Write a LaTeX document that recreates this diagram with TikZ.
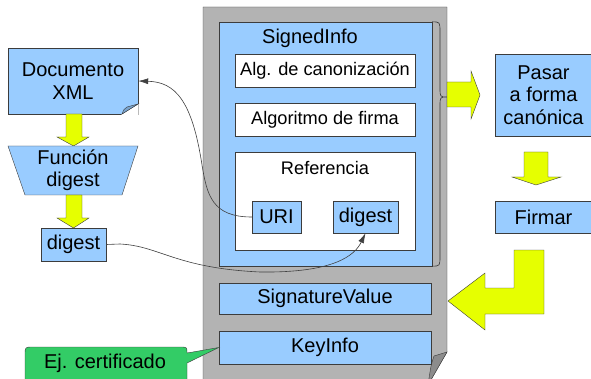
\documentclass[tikz,border=0pt]{standalone}
\usepackage{fontspec}
\setmainfont{Liberation Sans}
\usetikzlibrary{arrows.meta}
\definecolor{boxblue}{HTML}{99CCFF}
\definecolor{foldblue}{HTML}{7AA3CC}
\definecolor{framegray}{HTML}{B3B3B3}
\definecolor{foldgray}{HTML}{8C8C8C}
\definecolor{arrowyellow}{HTML}{E6FF00}
\definecolor{callgreen}{HTML}{33CC66}
\definecolor{edgegray}{HTML}{3C3C3C}

\begin{document}
\begin{tikzpicture}[x=1pt,y=-1pt,
  box/.style={draw=edgegray,fill=boxblue,inner sep=0pt,align=center,
    font=\fontsize{20}{22.5}\selectfont},
  whitebox/.style={box,fill=white,font=\fontsize{18.2}{21}\selectfont},
  yarrow/.style={draw=edgegray,fill=arrowyellow},
  link/.style={draw=black!75,line width=0.6pt}]
  \useasboundingbox (0,0) rectangle (591,379);
  \clip (0,0) rectangle (591,379);

  % left column
  \node[box,minimum width=130pt,minimum height=66pt] (doc) at (73,81) {Documento\\XML};
  \fill[white] (138.6,104) -- (138.6,115) -- (121,115) -- cycle;
  \draw[edgegray,fill=boxblue] (138,104) -- (122,114);
  \draw[edgegray,fill=foldblue] (122,114) .. controls (124,109) .. (127,107) -- (138,104) -- cycle;
  \draw[yarrow] (66,114) -- (82,114) -- (82,137) -- (89,137) -- (73.5,146) -- (57,137) -- (66,137) -- cycle;
  \draw[edgegray,fill=boxblue] (8,146) -- (138,146) -- (122,195) -- (25,195) -- cycle;
  \node[box,draw=none,fill=none] (func) at (73,170) {Función\\digest};
  \draw[yarrow] (66,195) -- (82,195) -- (82,218) -- (89,218) -- (73.5,228) -- (57,218) -- (66,218) -- cycle;
  \node[box,minimum width=65pt,minimum height=33pt] (dg) at (73.5,244.5) {digest};

  % signature
  \draw[edgegray,fill=framegray] (203,7) -- (447,7) -- (447,352) -- (428,385) -- (203,385) -- cycle;
  \draw[edgegray,fill=foldgray] (447,352) -- (434,356) .. controls (431,365) .. (428,385) -- cycle;
  \node[box,minimum width=213pt,minimum height=244pt] (signed) at (325.5,144) {};
  \node[box,draw=none,fill=none] at (310,38) {SignedInfo};
  \node[whitebox,minimum width=180pt,minimum height=33pt] (canon) at (325,70.5) {Alg. de canonización};
  \node[whitebox,minimum width=180pt,minimum height=33pt] (alg) at (325,119.5) {Algoritmo de firma};
  \node[whitebox,minimum width=180pt,minimum height=98pt] (ref) at (325,201) {};
  \node[whitebox,draw=none] at (325,168) {Referencia};
  \node[box,minimum width=49pt,minimum height=32pt] (uri) at (276.5,217) {URI};
  \node[box,minimum width=65pt,minimum height=32pt] (dig) at (365.5,217) {digest};
  \draw[black!80,line width=0.6pt] (signed.north east) .. controls (440,22) .. (440,32) -- (440,88)
    .. controls (440,97) .. (447,97) .. controls (440,97) .. (440,106) -- (440,256)
    .. controls (440,266) .. (signed.south east);
  \node[box,minimum width=212pt,minimum height=31pt] (sigval) at (325,298.5) {SignatureValue};
  \node[box,minimum width=212pt,minimum height=33pt] (keyinfo) at (325,347.5) {KeyInfo};

  \draw[edgegray,fill=callgreen] (25,390) -- (25,355) .. controls (25,347) .. (33,347) -- (180,347)
    .. controls (187,347) .. (187,353) -- (keyinfo.west) -- (187,363) -- (187,390);
  \node[box,draw=none,fill=none] (cert) at (105,363) {Ej. certificado};

  % right column
  \draw[yarrow] (447,82) -- (471,82) -- (471,71) -- (480,95) -- (471,119) -- (471,107) -- (447,107) -- cycle;
  \node[box,minimum width=97pt,minimum height=82pt] (pasar) at (543.5,95) {Pasar\\a forma\\canónica};
  \draw[yarrow] (524,152) -- (548,152) -- (548,177) -- (561,177) -- (536,185) -- (512,177) -- (524,177) -- cycle;
  \node[box,minimum width=97pt,minimum height=32pt] (firmar) at (543.5,217) {Firmar};
  \draw[yarrow] (514,250) -- (544,250) -- (544,314) -- (485,314) -- (485,330) -- (448,301)
    -- (485,273) -- (485,288) -- (514,288) -- cycle;

  % links
  \draw[link,-{Latex[length=10pt,width=6pt]}] (uri.west) .. controls (212,217) and (207,195) .. (202,165)
    .. controls (192,100) and (175,82) .. (doc.east);
  \draw[link,-{Latex[length=10pt,width=6pt]}] (dg.east) -- (120,244) .. controls (160,246) and (175,268) .. (260,272)
    .. controls (335,273) and (355,255) .. (dig.south);
\end{tikzpicture}
\end{document}
